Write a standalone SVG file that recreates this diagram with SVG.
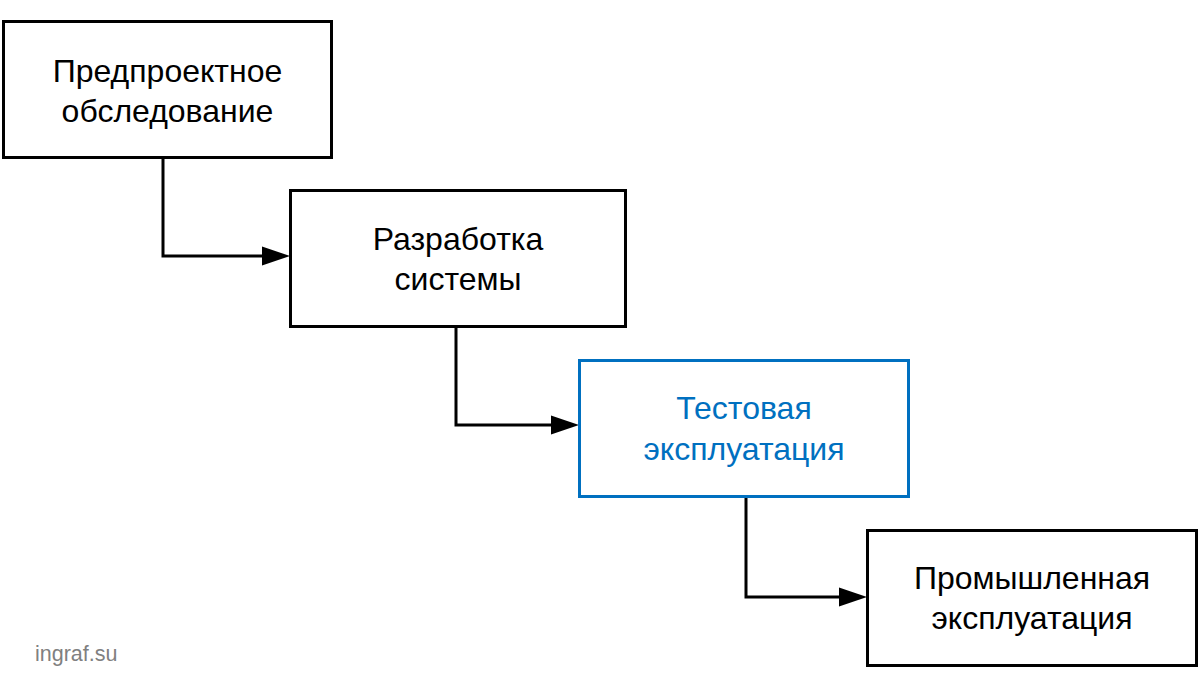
<svg xmlns="http://www.w3.org/2000/svg" width="1200" height="700" viewBox="0 0 1200 700">
<defs>
<style>
.box{fill:#fff;stroke:#000;stroke-width:3}
.box.hl{stroke:#0070C0}
.t{font-family:"Liberation Sans",Arial,sans-serif;font-size:32px;fill:#000;text-anchor:middle}
.t.hl{fill:#0070C0}
.wire{fill:none;stroke:#000;stroke-width:3}
.head{fill:#000}
.wm{font-family:"Liberation Sans",Arial,sans-serif;font-size:21.5px;fill:#808080}
</style>
</defs>
<rect width="1200" height="700" fill="#fff"/>
<g id="connectors">
<path class="wire" d="M163,158 V256 H262"/>
<path class="head" d="M262,246.5 L290,256 L262,265.5 Z"/>
<path class="wire" d="M456,326 V425 H551"/>
<path class="head" d="M551,415.5 L579,425 L551,434.5 Z"/>
<path class="wire" d="M746,497 V597 H839"/>
<path class="head" d="M839,587.5 L867,597 L839,606.5 Z"/>
</g>
<g id="node1">
<rect class="box" x="3.5" y="21.5" width="328" height="136"/>
<text class="t" x="167.5" y="82">Предпроектное</text>
<text class="t" x="167.5" y="122">обследование</text>
</g>
<g id="node2">
<rect class="box" x="290.5" y="190.5" width="335" height="136"/>
<text class="t" x="458" y="250">Разработка</text>
<text class="t" x="458" y="290">системы</text>
</g>
<g id="node3">
<rect class="box hl" x="579.5" y="360.5" width="329" height="136"/>
<text class="t hl" x="744" y="419">Тестовая</text>
<text class="t hl" x="744" y="460">эксплуатация</text>
</g>
<g id="node4">
<rect class="box" x="867.5" y="530.5" width="329" height="135"/>
<text class="t" x="1032" y="589">Промышленная</text>
<text class="t" x="1032" y="629">эксплуатация</text>
</g>
<text class="wm" x="35" y="661">ingraf.su</text>
</svg>
